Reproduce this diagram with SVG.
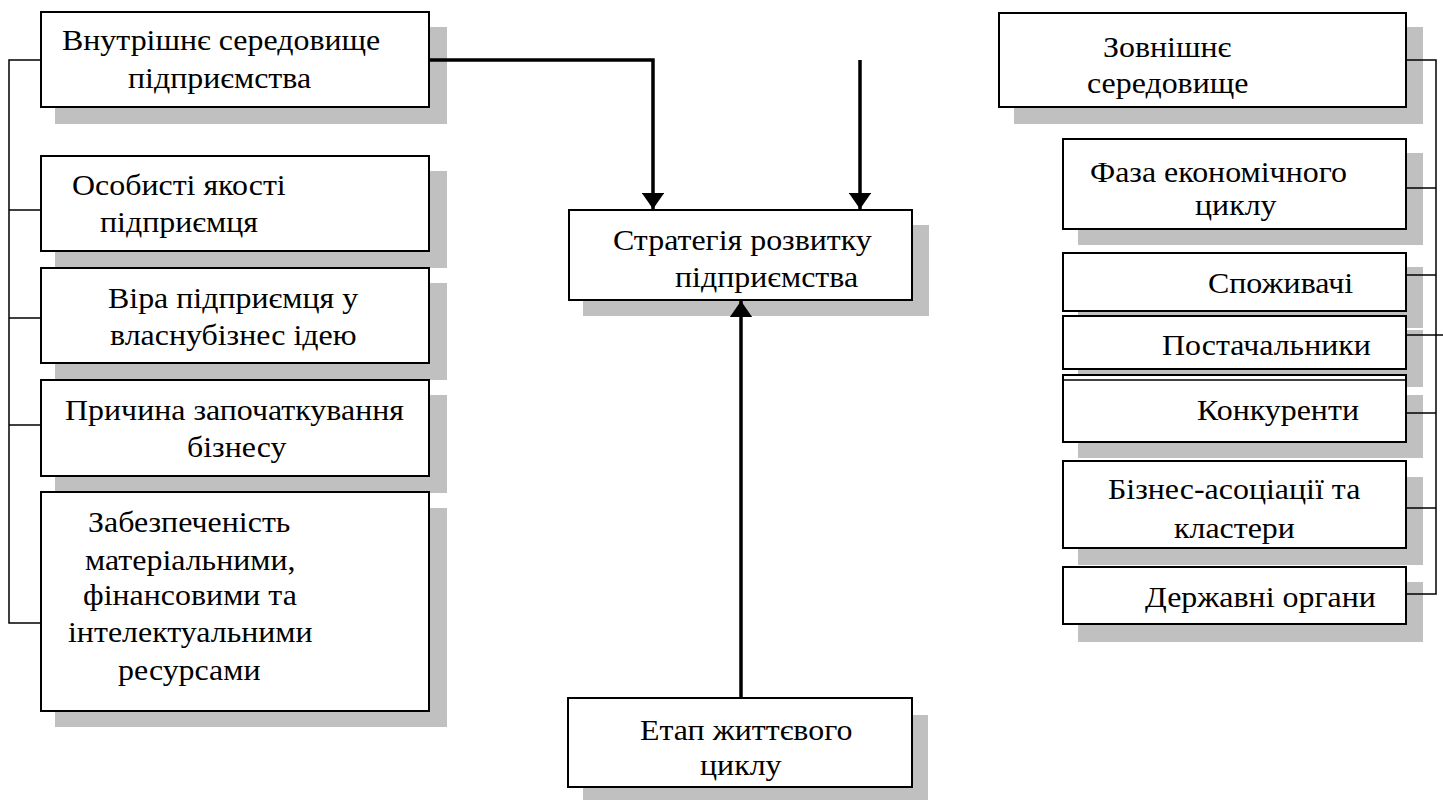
<svg xmlns="http://www.w3.org/2000/svg" width="1443" height="800" viewBox="0 0 1443 800">
<style>
.sh{fill:#c0c0c0;stroke:none}
.bx{fill:#fff;stroke:#000;stroke-width:2}
.t{font-family:"Liberation Serif","Times New Roman",serif;font-size:28.5px;fill:#000}
.ln{fill:none;stroke:#000;stroke-width:1.5}
.ar{fill:none;stroke:#000;stroke-width:3.5}
</style>
<defs>
<marker id="ah" markerWidth="4.6" markerHeight="6.4" refX="4.6" refY="3.2" orient="auto" markerUnits="strokeWidth">
<path d="M0,0 L4.6,3.2 L0,6.4 Z" fill="#000"/>
</marker>
</defs>
<rect width="1443" height="800" fill="#fff"/>

<g id="n-vnutr">
<rect class="sh" x="55" y="27" width="392" height="97"/>
<rect class="bx" x="41" y="12" width="388" height="95"/>
<text class="t" transform="translate(62,50) scale(1.12,1)">Внутрішнє середовище</text>
<text class="t" transform="translate(128,88) scale(1.12,1)">підприємства</text>
</g>

<g id="n-osob">
<rect class="sh" x="55" y="171" width="392" height="97"/>
<rect class="bx" x="41" y="156" width="388" height="95"/>
<text class="t" transform="translate(72,195) scale(1.12,1)">Особисті якості</text>
<text class="t" transform="translate(100,232) scale(1.12,1)">підприємця</text>
</g>

<g id="n-vira">
<rect class="sh" x="55" y="283" width="392" height="97"/>
<rect class="bx" x="41" y="268" width="388" height="95"/>
<text class="t" transform="translate(108,308) scale(1.12,1)">Віра підприємця у</text>
<text class="t" transform="translate(110,345) scale(1.12,1)">власнубізнес ідею</text>
</g>

<g id="n-prych">
<rect class="sh" x="55" y="395" width="392" height="98"/>
<rect class="bx" x="41" y="380" width="388" height="96"/>
<text class="t" transform="translate(65,420) scale(1.12,1)">Причина започаткування</text>
<text class="t" transform="translate(187,457) scale(1.12,1)">бізнесу</text>
</g>

<g id="n-zabez">
<rect class="sh" x="55" y="508" width="392" height="219"/>
<rect class="bx" x="41" y="492" width="388" height="219"/>
<text class="t" transform="translate(88,532) scale(1.12,1)">Забезпеченість</text>
<text class="t" transform="translate(85,570) scale(1.12,1)">матеріальними,</text>
<text class="t" transform="translate(83,605) scale(1.12,1)">фінансовими та</text>
<text class="t" transform="translate(68,642) scale(1.12,1)">інтелектуальними</text>
<text class="t" transform="translate(118,680) scale(1.12,1)">ресурсами</text>
</g>

<g id="n-strat">
<rect class="sh" x="583" y="225" width="346" height="91"/>
<rect class="bx" x="569" y="210" width="343" height="90"/>
<text class="t" transform="translate(613,250) scale(1.12,1)">Стратегія розвитку</text>
<text class="t" transform="translate(675,287) scale(1.12,1)">підприємства</text>
</g>

<g id="n-etap">
<rect class="sh" x="583" y="715" width="345" height="85"/>
<rect class="bx" x="568" y="698" width="344" height="89"/>
<text class="t" transform="translate(640,740) scale(1.12,1)">Етап життєвого</text>
<text class="t" transform="translate(700,775) scale(1.12,1)">циклу</text>
</g>

<g id="n-zovn">
<rect class="sh" x="1014" y="27" width="409" height="97"/>
<rect class="bx" x="999" y="13" width="407" height="94"/>
<text class="t" transform="translate(1103,57) scale(1.12,1)">Зовнішнє</text>
<text class="t" transform="translate(1087,93) scale(1.12,1)">середовище</text>
</g>

<g id="n-faza">
<rect class="sh" x="1078" y="153" width="345" height="92"/>
<rect class="bx" x="1063" y="139" width="343" height="90"/>
<text class="t" transform="translate(1090,182) scale(1.12,1)">Фаза економічного</text>
<text class="t" transform="translate(1195,215) scale(1.12,1)">циклу</text>
</g>

<g id="n-spozh">
<rect class="sh" x="1078" y="267" width="345" height="61"/>
<rect class="bx" x="1063" y="253" width="343" height="58"/>
<text class="t" transform="translate(1208,293) scale(1.12,1)">Споживачі</text>
</g>

<g id="n-postach">
<rect class="sh" x="1078" y="330" width="345" height="57"/>
<rect class="bx" x="1063" y="316" width="343" height="53"/>
<text class="t" transform="translate(1162,355) scale(1.12,1)">Постачальники</text>
</g>

<g id="n-konk">
<rect class="sh" x="1078" y="395" width="345" height="63"/>
<rect class="bx" x="1063" y="375" width="343" height="67"/>
<line class="ln" x1="1063" y1="380" x2="1406" y2="380"/>
<text class="t" transform="translate(1197,420) scale(1.12,1)">Конкуренти</text>
</g>

<g id="n-biznes">
<rect class="sh" x="1078" y="477" width="345" height="88"/>
<rect class="bx" x="1063" y="461" width="343" height="87"/>
<text class="t" transform="translate(1108,499) scale(1.12,1)">Бізнес-асоціації та</text>
<text class="t" transform="translate(1174,538) scale(1.12,1)">кластери</text>
</g>

<g id="n-derzh">
<rect class="sh" x="1078" y="582" width="345" height="60"/>
<rect class="bx" x="1063" y="567" width="343" height="57"/>
<text class="t" transform="translate(1145,607) scale(1.12,1)">Державні органи</text>
</g>

<g id="connectors">
<polyline class="ln" points="41,60 9,60 9,623 41,623"/>
<line class="ln" x1="9" y1="210" x2="41" y2="210"/>
<line class="ln" x1="9" y1="318" x2="41" y2="318"/>
<line class="ln" x1="9" y1="425" x2="41" y2="425"/>
<polyline class="ln" points="1407,60 1436,60 1436,594 1407,594"/>
<line class="ln" x1="1407" y1="188" x2="1436" y2="188"/>
<line class="ln" x1="1407" y1="275" x2="1436" y2="275"/>
<line class="ln" x1="1407" y1="335" x2="1443" y2="335"/>
<line class="ln" x1="1407" y1="413" x2="1436" y2="413"/>
<line class="ln" x1="1407" y1="508" x2="1436" y2="508"/>
<polyline class="ar" points="430,60 653,60 653,209" marker-end="url(#ah)"/>
<line class="ar" x1="860" y1="60" x2="860" y2="209" marker-end="url(#ah)"/>
<line class="ar" x1="741" y1="697" x2="741" y2="301" marker-end="url(#ah)"/>
</g>
</svg>
